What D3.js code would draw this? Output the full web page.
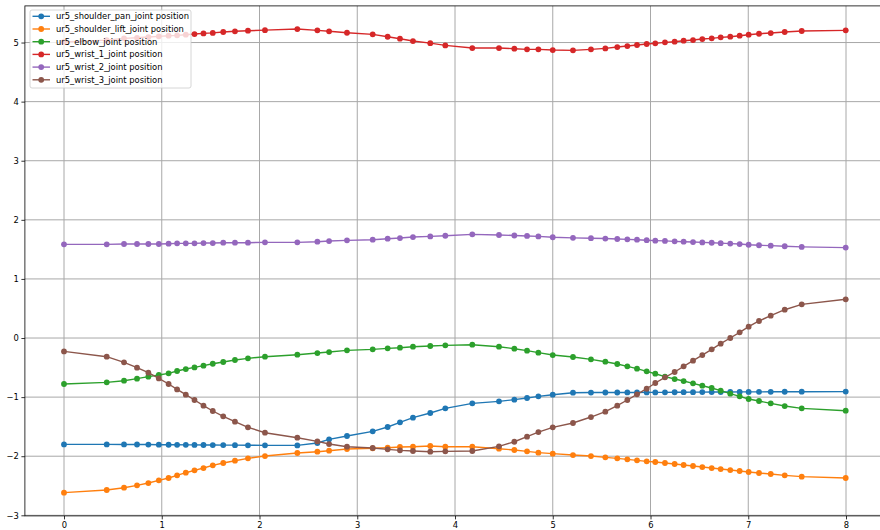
<!DOCTYPE html>
<html>
<head>
<meta charset="utf-8">
<script src="https://cdn.jsdelivr.net/npm/d3@7/dist/d3.min.js"></script>
<style>
  html, body { margin: 0; padding: 0; background: #fff; }
  svg { display: block; }
  text { font-family: "DejaVu Sans", sans-serif; }
</style>
</head>
<body>
<svg id="chart" width="880" height="530"></svg>
<script>
// Joint trajectory samples (time in seconds, positions in radians)
const time = [0, 0.437, 0.614, 0.747, 0.863, 0.97, 1.07, 1.157, 1.246, 1.335, 1.427, 1.522, 1.629, 1.749, 1.882, 2.056, 2.387, 2.592, 2.712, 2.895, 3.158, 3.311, 3.437, 3.57, 3.747, 3.901,
  4.177, 4.45, 4.607, 4.737, 4.853, 5.0, 5.207, 5.391, 5.538, 5.66, 5.763, 5.862, 5.961, 6.049, 6.148, 6.247, 6.339, 6.435, 6.53, 6.626, 6.718, 6.816, 6.912, 7.004, 7.11, 7.23, 7.373, 7.547, 7.997];

const shoulderPan = [-1.800, -1.800, -1.801, -1.802, -1.803, -1.805, -1.806, -1.807, -1.808, -1.809, -1.810, -1.811, -1.812, -1.813, -1.815, -1.816, -1.817, -1.777, -1.715, -1.658, -1.579, -1.506, -1.427, -1.348, -1.269, -1.190,
  -1.105, -1.072, -1.043, -1.015, -0.987, -0.959, -0.925, -0.923, -0.922, -0.922, -0.921, -0.921, -0.920, -0.920, -0.919, -0.918, -0.917, -0.916, -0.915, -0.914, -0.914, -0.913, -0.912, -0.912, -0.911, -0.910, -0.909, -0.908, -0.907];

const shoulderLift = [-2.617, -2.572, -2.533, -2.493, -2.454, -2.408, -2.369, -2.324, -2.279, -2.239, -2.200, -2.154, -2.115, -2.076, -2.036, -1.997, -1.946, -1.924, -1.907, -1.878, -1.866, -1.856, -1.844, -1.839, -1.827, -1.839,
  -1.839, -1.873, -1.895, -1.918, -1.940, -1.957, -1.980, -1.997, -2.019, -2.036, -2.053, -2.070, -2.087, -2.098, -2.115, -2.132, -2.149, -2.166, -2.183, -2.200, -2.217, -2.234, -2.250, -2.267, -2.284, -2.301, -2.324, -2.346, -2.369];

const elbow = [-0.778, -0.750, -0.722, -0.688, -0.654, -0.626, -0.598, -0.558, -0.525, -0.497, -0.468, -0.435, -0.406, -0.372, -0.344, -0.316, -0.282, -0.254, -0.237, -0.209, -0.192, -0.175, -0.164, -0.147, -0.135, -0.124,
  -0.113, -0.147, -0.181, -0.214, -0.248, -0.288, -0.321, -0.361, -0.401, -0.440, -0.479, -0.519, -0.564, -0.604, -0.654, -0.694, -0.728, -0.767, -0.807, -0.846, -0.891, -0.942, -0.987, -1.032, -1.066, -1.105, -1.151, -1.190, -1.230];

const wrist1 = [5.010, 5.040, 5.070, 5.080, 5.093, 5.105, 5.116, 5.122, 5.133, 5.144, 5.155, 5.163, 5.178, 5.190, 5.200, 5.210, 5.228, 5.206, 5.190, 5.166, 5.139, 5.098, 5.065, 5.025, 4.990, 4.952,
  4.907, 4.907, 4.896, 4.885, 4.885, 4.873, 4.868, 4.885, 4.901, 4.924, 4.941, 4.958, 4.975, 4.986, 5.003, 5.014, 5.031, 5.042, 5.059, 5.071, 5.088, 5.099, 5.116, 5.133, 5.149, 5.161, 5.178, 5.195, 5.206];

const wrist2 = [1.585, 1.585, 1.591, 1.591, 1.591, 1.591, 1.596, 1.602, 1.602, 1.602, 1.607, 1.607, 1.613, 1.613, 1.613, 1.619, 1.619, 1.630, 1.641, 1.653, 1.664, 1.681, 1.692, 1.709, 1.720, 1.731,
  1.754, 1.743, 1.735, 1.727, 1.720, 1.705, 1.695, 1.689, 1.683, 1.676, 1.670, 1.664, 1.655, 1.648, 1.643, 1.636, 1.630, 1.624, 1.618, 1.612, 1.605, 1.598, 1.590, 1.578, 1.570, 1.563, 1.553, 1.542, 1.530];

const wrist3 = [-0.226, -0.316, -0.412, -0.502, -0.587, -0.683, -0.778, -0.869, -0.959, -1.049, -1.145, -1.235, -1.325, -1.416, -1.511, -1.602, -1.687, -1.749, -1.794, -1.839, -1.861, -1.884, -1.901, -1.912, -1.924, -1.918,
  -1.912, -1.833, -1.755, -1.670, -1.591, -1.511, -1.438, -1.337, -1.247, -1.145, -1.049, -0.953, -0.858, -0.761, -0.665, -0.575, -0.479, -0.384, -0.288, -0.192, -0.096, 0.000, 0.096, 0.192, 0.288, 0.378, 0.479, 0.570, 0.655];

const seriesNames = [
  "ur5_shoulder_pan_joint position",
  "ur5_shoulder_lift_joint position",
  "ur5_elbow_joint position",
  "ur5_wrist_1_joint position",
  "ur5_wrist_2_joint position",
  "ur5_wrist_3_joint position"
];
const seriesValues = [shoulderPan, shoulderLift, elbow, wrist1, wrist2, wrist3];
const colors = ["#1f77b4", "#ff7f0e", "#2ca02c", "#d62728", "#9467bd", "#8c564b"];

const xTicks = [0, 1, 2, 3, 4, 5, 6, 7, 8];
const yTicks = [-3, -2, -1, 0, 1, 2, 3, 4, 5];

// Layout
const plot = { left: 24.9, right: 885.1, top: 5.9, bottom: 515.9 };
const fontSize = 8.4;
const markerR = 2.9;
const lineW = 1.4;

const svg = d3.select("#chart");

const x = d3.scaleLinear().domain([-0.4, 8.4]).range([plot.left, plot.right]);
const y = d3.scaleLinear().domain([-3.01, 5.62]).range([plot.bottom, plot.top]);

// Grid
const grid = svg.append("g").attr("class", "grid");
grid.selectAll("line.gx").data(xTicks).join("line")
  .attr("x1", d => x(d)).attr("x2", d => x(d))
  .attr("y1", plot.top).attr("y2", plot.bottom)
  .attr("stroke", "#a8a8a8").attr("stroke-width", 1);
grid.selectAll("line.gy").data(yTicks).join("line")
  .attr("x1", plot.left).attr("x2", plot.right)
  .attr("y1", d => y(d)).attr("y2", d => y(d))
  .attr("stroke", "#a8a8a8").attr("stroke-width", 1);

// Series: line plus circular markers
const lineGen = d3.line().x(d => x(d[0])).y(d => y(d[1]));
seriesValues.forEach((vals, i) => {
  const pts = time.map((t, k) => [t, vals[k]]);
  const g = svg.append("g").attr("class", "series");
  g.append("path")
    .attr("d", lineGen(pts))
    .attr("fill", "none")
    .attr("stroke", colors[i])
    .attr("stroke-width", lineW);
  g.selectAll("circle").data(pts).join("circle")
    .attr("cx", d => x(d[0])).attr("cy", d => y(d[1]))
    .attr("r", markerR)
    .attr("fill", colors[i]);
});

// Axes
const xAxis = d3.axisBottom(x).tickValues(xTicks).tickSize(3.5).tickPadding(2.5).tickFormat(d3.format("d"));
const yAxis = d3.axisLeft(y).tickValues(yTicks).tickSize(3.5).tickPadding(2.5)
  .tickFormat(d => d < 0 ? "\u2212" + Math.abs(d) : String(d));

const gx = svg.append("g").attr("transform", `translate(0,${plot.bottom})`).call(xAxis);
const gy = svg.append("g").attr("transform", `translate(${plot.left},0)`).call(yAxis);
[gx, gy].forEach(g => {
  g.select(".domain").remove();
  g.selectAll(".tick line").attr("stroke", "#000").attr("stroke-width", 0.8);
  g.selectAll(".tick text").attr("fill", "#000")
    .style("font-family", "DejaVu Sans").style("font-size", fontSize + "px");
});

// Frame
svg.append("rect")
  .attr("x", plot.left).attr("y", plot.top)
  .attr("width", plot.right - plot.left).attr("height", plot.bottom - plot.top)
  .attr("fill", "none").attr("stroke", "#000").attr("stroke-width", 0.8);

// Legend
const legend = svg.append("g").attr("transform", "translate(30,10)");
legend.append("rect")
  .attr("width", 161).attr("height", 78).attr("rx", 2)
  .attr("fill", "#fff").attr("fill-opacity", 0.8)
  .attr("stroke", "#cccccc").attr("stroke-width", 0.8);
seriesNames.forEach((name, i) => {
  const cy = 6.3 + i * 12.7;
  const row = legend.append("g").attr("transform", `translate(0,${cy})`);
  row.append("line").attr("x1", 2.5).attr("x2", 20).attr("y1", 0).attr("y2", 0)
    .attr("stroke", colors[i]).attr("stroke-width", lineW);
  row.append("circle").attr("cx", 11.2).attr("cy", 0).attr("r", markerR).attr("fill", colors[i]);
  row.append("text").attr("x", 26).attr("y", 0).attr("dy", "0.35em")
    .style("font-size", fontSize + "px").attr("fill", "#000").text(name);
});
</script>
</body>
</html>
